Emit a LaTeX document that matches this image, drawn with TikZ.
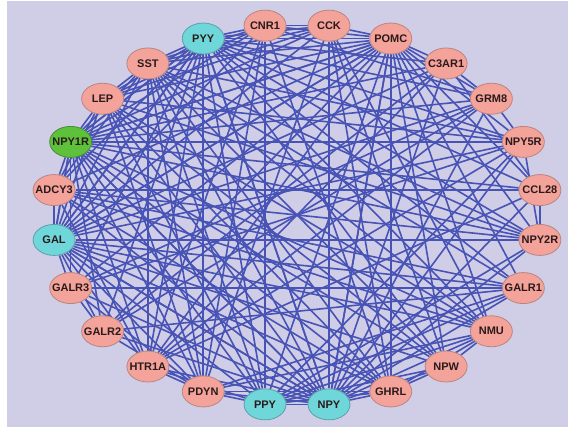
\documentclass[tikz,border=0pt]{standalone}
\usepackage{fontspec}
\setmainfont{Liberation Sans}
\usetikzlibrary{shapes.geometric}
\pgfdeclarelayer{backdrop}
\pgfdeclarelayer{edges}
\pgfsetlayers{backdrop,edges,main}
\definecolor{panel}{HTML}{D0CDE6}
\definecolor{wire}{HTML}{4853B6}
\definecolor{salmon}{HTML}{F4A39B}
\definecolor{salmonrim}{HTML}{B98580}
\definecolor{aqua}{HTML}{6FD7DA}
\definecolor{aquarim}{HTML}{5AA0A8}
\definecolor{leaf}{HTML}{5EC13B}
\definecolor{leafrim}{HTML}{4A8A38}
\definecolor{ink}{HTML}{2A1A1A}
\tikzset{
  gene/.style={ellipse, minimum width=42pt, minimum height=31pt, inner sep=0pt,
    line width=0.8pt, text=ink, font=\fontsize{11}{12}\selectfont\bfseries},
  plain/.style={gene, fill=salmon, draw=salmonrim},
  family/.style={gene, fill=aqua, draw=aquarim},
  focus/.style={gene, fill=leaf, draw=leafrim},
  link/.style={draw=wire, line width=1.6pt}
}
\begin{document}
\begin{tikzpicture}[x=1pt, y=-1pt]
\useasboundingbox (0,0) rectangle (568,427);
\begin{pgfonlayer}{backdrop}
  \fill[white] (0,0) rectangle (568,427);
  \fill[panel] (7,1) rectangle (568,427);
\end{pgfonlayer}
% genes placed on an ellipse, 15 degrees apart
\foreach \g/\ang/\st in {
  CCL28/7.5/plain, NPY5R/22.5/plain, GRM8/37.5/plain, C3AR1/52.5/plain,
  POMC/67.5/plain, CCK/82.5/plain, CNR1/97.5/plain, PYY/112.5/family,
  SST/127.5/plain, LEP/142.5/plain, NPY1R/157.5/focus, ADCY3/172.5/plain,
  GAL/187.5/family, GALR3/202.5/plain, GALR2/217.5/plain, HTR1A/232.5/plain,
  PDYN/247.5/plain, PPY/262.5/family, NPY/277.5/family, GHRL/292.5/plain,
  NPW/307.5/plain, NMU/322.5/plain, GALR1/337.5/plain, NPY2R/352.5/plain}
  \node[\st] (\g) at ({297+245*cos(\ang)},{215-191*sin(\ang)}) {\makebox[0pt]{\g}};
\def\allgenes{CCL28,NPY5R,GRM8,C3AR1,POMC,CCK,CNR1,PYY,SST,LEP,NPY1R,ADCY3,GAL,GALR3,GALR2,HTR1A,PDYN,PPY,NPY,GHRL,NPW,NMU,GALR1,NPY2R}
\begin{pgfonlayer}{edges}
  % hub genes linked to every gene but the one facing them
  \foreach \h/\opp in {NPY/CNR1, PYY/GHRL, NPY1R/GALR1, POMC/PDYN, GAL/CCL28}{
    \foreach \n in \allgenes{
      \ifx\h\n\else\ifx\opp\n\else\draw[link] (\h) -- (\n);\fi\fi
    }
  }
  % remaining interactions
  \foreach \a/\b in {
    SST/LEP, SST/CNR1, SST/CCK, SST/GHRL, SST/NMU, SST/PDYN, SST/PPY,
    SST/HTR1A, SST/GALR1, SST/NPY2R, SST/NPY5R, SST/ADCY3, SST/NPW,
    LEP/CNR1, LEP/CCK, LEP/GHRL, LEP/ADCY3, LEP/PPY, LEP/PDYN,
    LEP/NPY2R, LEP/NPY5R, LEP/NMU, LEP/NPW,
    PDYN/CNR1, PDYN/CCK, PDYN/HTR1A, PDYN/GALR1, PDYN/GALR2, PDYN/GALR3,
    PDYN/PPY, PDYN/GHRL, PDYN/NMU,
    PPY/CNR1, PPY/GHRL, PPY/NPY2R, PPY/NPY5R, PPY/GALR1, PPY/NPW,
    PPY/NMU, PPY/HTR1A,
    GALR1/GALR2, GALR3/GALR1, GALR2/GALR3,
    NPY2R/NPY5R, NPY2R/CCL28, NPY5R/GRM8, NPY5R/HTR1A, NPY5R/GALR3,
    C3AR1/CCL28, C3AR1/GRM8, C3AR1/HTR1A, C3AR1/GALR2,
    GRM8/HTR1A, GRM8/CNR1, GRM8/GALR3, GRM8/GALR2,
    CNR1/CCK, CNR1/HTR1A, CNR1/GHRL,
    CCK/GHRL, CCK/NPW, CCK/NMU, GHRL/NMU, NMU/NPW, NPW/GHRL,
    HTR1A/ADCY3, HTR1A/CCL28,
    ADCY3/CCL28, ADCY3/GHRL, ADCY3/GALR1, ADCY3/NMU, ADCY3/NPY2R}
    \draw[link] (\a) -- (\b);
\end{pgfonlayer}
\end{tikzpicture}
\end{document}
